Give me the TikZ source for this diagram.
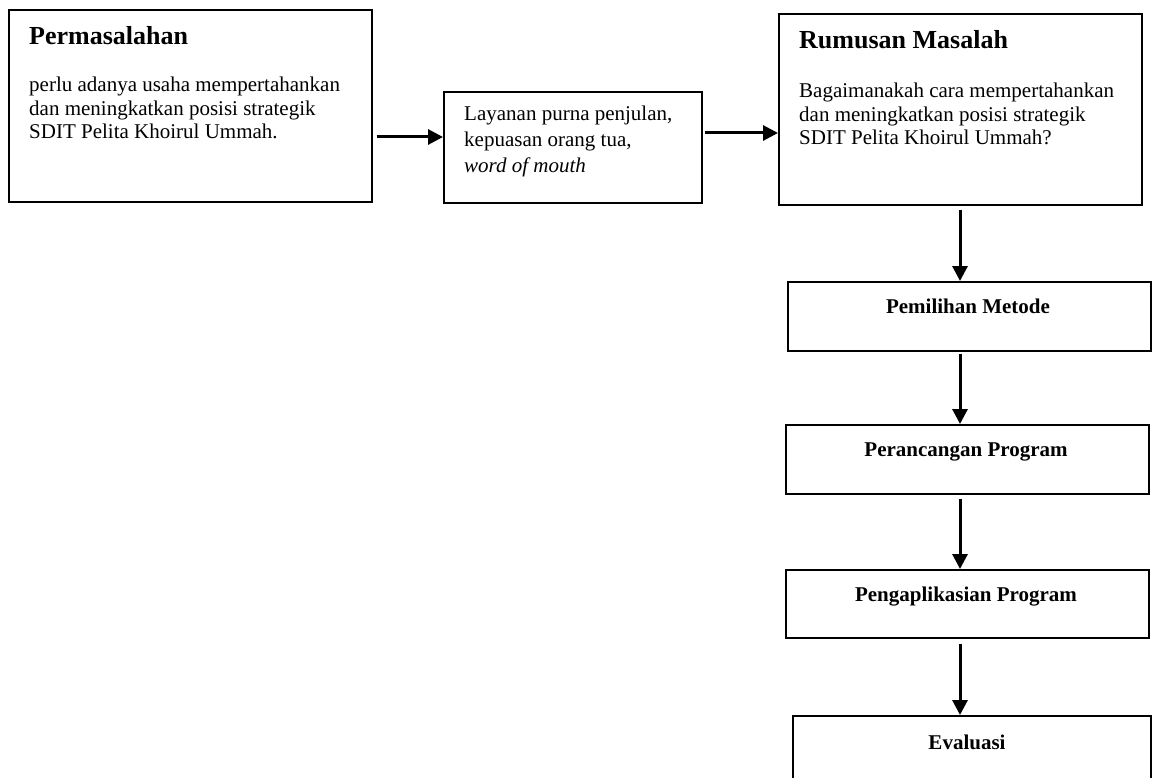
\documentclass[tikz,border=0pt]{standalone}
\usepackage{fontspec}
\setmainfont{Liberation Serif}
\usetikzlibrary{arrows.meta}
\begin{document}
\begin{tikzpicture}[x=1pt,y=-1pt,
  box/.style={draw=black,line width=1.6pt,rectangle,inner sep=0pt,anchor=north west},
  bigtitle/.style={anchor=base west,inner sep=0pt,font=\fontsize{26}{30}\selectfont\bfseries},
  body/.style={anchor=north west,inner sep=0pt,align=left,font=\fontsize{21}{23.5}\selectfont},
  bodyb/.style={anchor=north west,inner sep=0pt,align=left,font=\fontsize{21}{26}\selectfont},
  smalltitle/.style={anchor=base,inner sep=0pt,font=\fontsize{21}{24}\selectfont\bfseries},
  arr/.style={line width=3pt,-{Triangle[length=15pt,width=15pt]}}]
\useasboundingbox (0,0) rectangle (1153,778);
% boxes
\node[box,minimum width=363pt,minimum height=192pt] (b1) at (8,9) {};
\node[box,minimum width=258pt,minimum height=111pt] (b2) at (443,91) {};
\node[box,minimum width=363pt,minimum height=191pt] (b3) at (778,13) {};
\node[box,minimum width=363pt,minimum height=69pt] (b4) at (787,281) {};
\node[box,minimum width=363pt,minimum height=69pt] (b5) at (785,424) {};
\node[box,minimum width=363pt,minimum height=68pt] (b6) at (785,569) {};
\node[box,minimum width=358pt,minimum height=80pt] (b7) at (792,715) {};
% texts
\node[bigtitle] (t1) at (29,45) {Permasalahan};
\node[body] (x1) at (29,77) {perlu adanya usaha mempertahankan\\dan meningkatkan posisi strategik\\SDIT Pelita Khoirul Ummah.};
\node[bodyb] (x2) at (464,106) {Layanan purna penjulan,\\kepuasan orang tua,\\\textit{word of mouth}};
\node[bigtitle] (t3) at (799,49) {Rumusan Masalah};
\node[body] (x3) at (799,83) {Bagaimanakah cara mempertahankan\\dan meningkatkan posisi strategik\\SDIT Pelita Khoirul Ummah?};
\node[smalltitle] (t4) at (968,313) {Pemilihan Metode};
\node[smalltitle] (t5) at (966,456) {Perancangan Program};
\node[smalltitle] (t6) at (966,601) {Pengaplikasian Program};
\node[smalltitle] (t7) at (967,749) {Evaluasi};
% connectors
\draw[arr] ([xshift=4pt]b1.east |- 0,137) -- (b2.west |- 0,137);
\draw[arr] ([xshift=2pt]b2.east |- 0,133) -- (b3.west |- 0,133);
\draw[arr] ([yshift=-4pt]960,0 |- b3.south) -- (960,0 |- b4.north);
\draw[arr] ([yshift=-2pt]960,0 |- b4.south) -- (960,0 |- b5.north);
\draw[arr] ([yshift=-4pt]960,0 |- b5.south) -- (960,0 |- b6.north);
\draw[arr] ([yshift=-5pt]960,0 |- b6.south) -- (960,0 |- b7.north);
\end{tikzpicture}
\end{document}
